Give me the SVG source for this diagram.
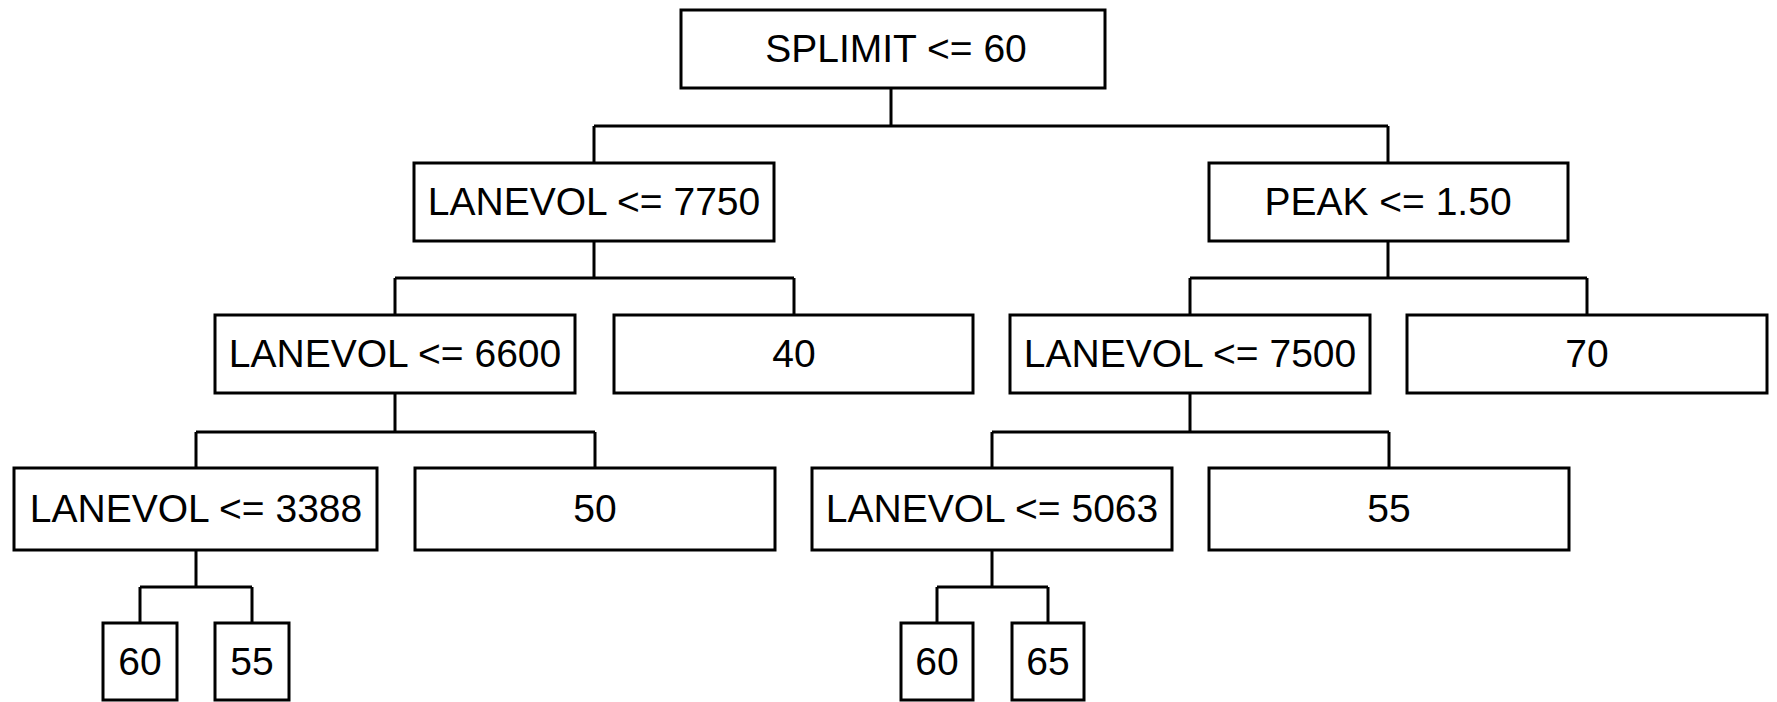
<svg xmlns="http://www.w3.org/2000/svg" width="1777" height="702" viewBox="0 0 1777 702">
<style>
rect{fill:#fff;stroke:#000;stroke-width:3}
text{font-family:"Liberation Sans",Arial,sans-serif;font-size:39px;fill:#000;text-anchor:middle}
#connectors path{fill:none;stroke:#000;stroke-width:3}
</style>
<rect x="0" y="0" width="1777" height="702" style="stroke:none"/>
<g id="connectors">
<path d="M891 88V126M594 126H1388M594 126V163M1388 126V163"/>
<path d="M594 241V278M395 278H794M395 278V315M794 278V315"/>
<path d="M1388 241V278M1190 278H1587M1190 278V315M1587 278V315"/>
<path d="M395 393V432M196 432H595M196 432V468M595 432V468"/>
<path d="M1190 393V432M992 432H1389M992 432V468M1389 432V468"/>
<path d="M196 550V587M140 587H252M140 587V623M252 587V623"/>
<path d="M992 550V587M937 587H1048M937 587V623M1048 587V623"/>
</g>
<g id="n_root"><rect x="681" y="10" width="424" height="78"/><text x="896" y="62">SPLIMIT &lt;= 60</text></g>
<g id="n_lv7750"><rect x="414" y="163" width="360" height="78"/><text x="594" y="215">LANEVOL &lt;= 7750</text></g>
<g id="n_peak"><rect x="1209" y="163" width="359" height="78"/><text x="1388" y="215">PEAK &lt;= 1.50</text></g>
<g id="n_lv6600"><rect x="215" y="315" width="360" height="78"/><text x="395" y="367">LANEVOL &lt;= 6600</text></g>
<g id="n_40"><rect x="614" y="315" width="359" height="78"/><text x="794" y="367">40</text></g>
<g id="n_lv7500"><rect x="1010" y="315" width="360" height="78"/><text x="1190" y="367">LANEVOL &lt;= 7500</text></g>
<g id="n_70"><rect x="1407" y="315" width="360" height="78"/><text x="1587" y="367">70</text></g>
<g id="n_lv3388"><rect x="14" y="468" width="363" height="82"/><text x="196" y="522">LANEVOL &lt;= 3388</text></g>
<g id="n_50"><rect x="415" y="468" width="360" height="82"/><text x="595" y="522">50</text></g>
<g id="n_lv5063"><rect x="812" y="468" width="360" height="82"/><text x="992" y="522">LANEVOL &lt;= 5063</text></g>
<g id="n_55a"><rect x="1209" y="468" width="360" height="82"/><text x="1389" y="522">55</text></g>
<g id="n_60a"><rect x="103" y="623" width="74" height="77"/><text x="140" y="675">60</text></g>
<g id="n_55b"><rect x="215" y="623" width="74" height="77"/><text x="252" y="675">55</text></g>
<g id="n_60b"><rect x="901" y="623" width="72" height="77"/><text x="937" y="675">60</text></g>
<g id="n_65"><rect x="1012" y="623" width="72" height="77"/><text x="1048" y="675">65</text></g>
</svg>
